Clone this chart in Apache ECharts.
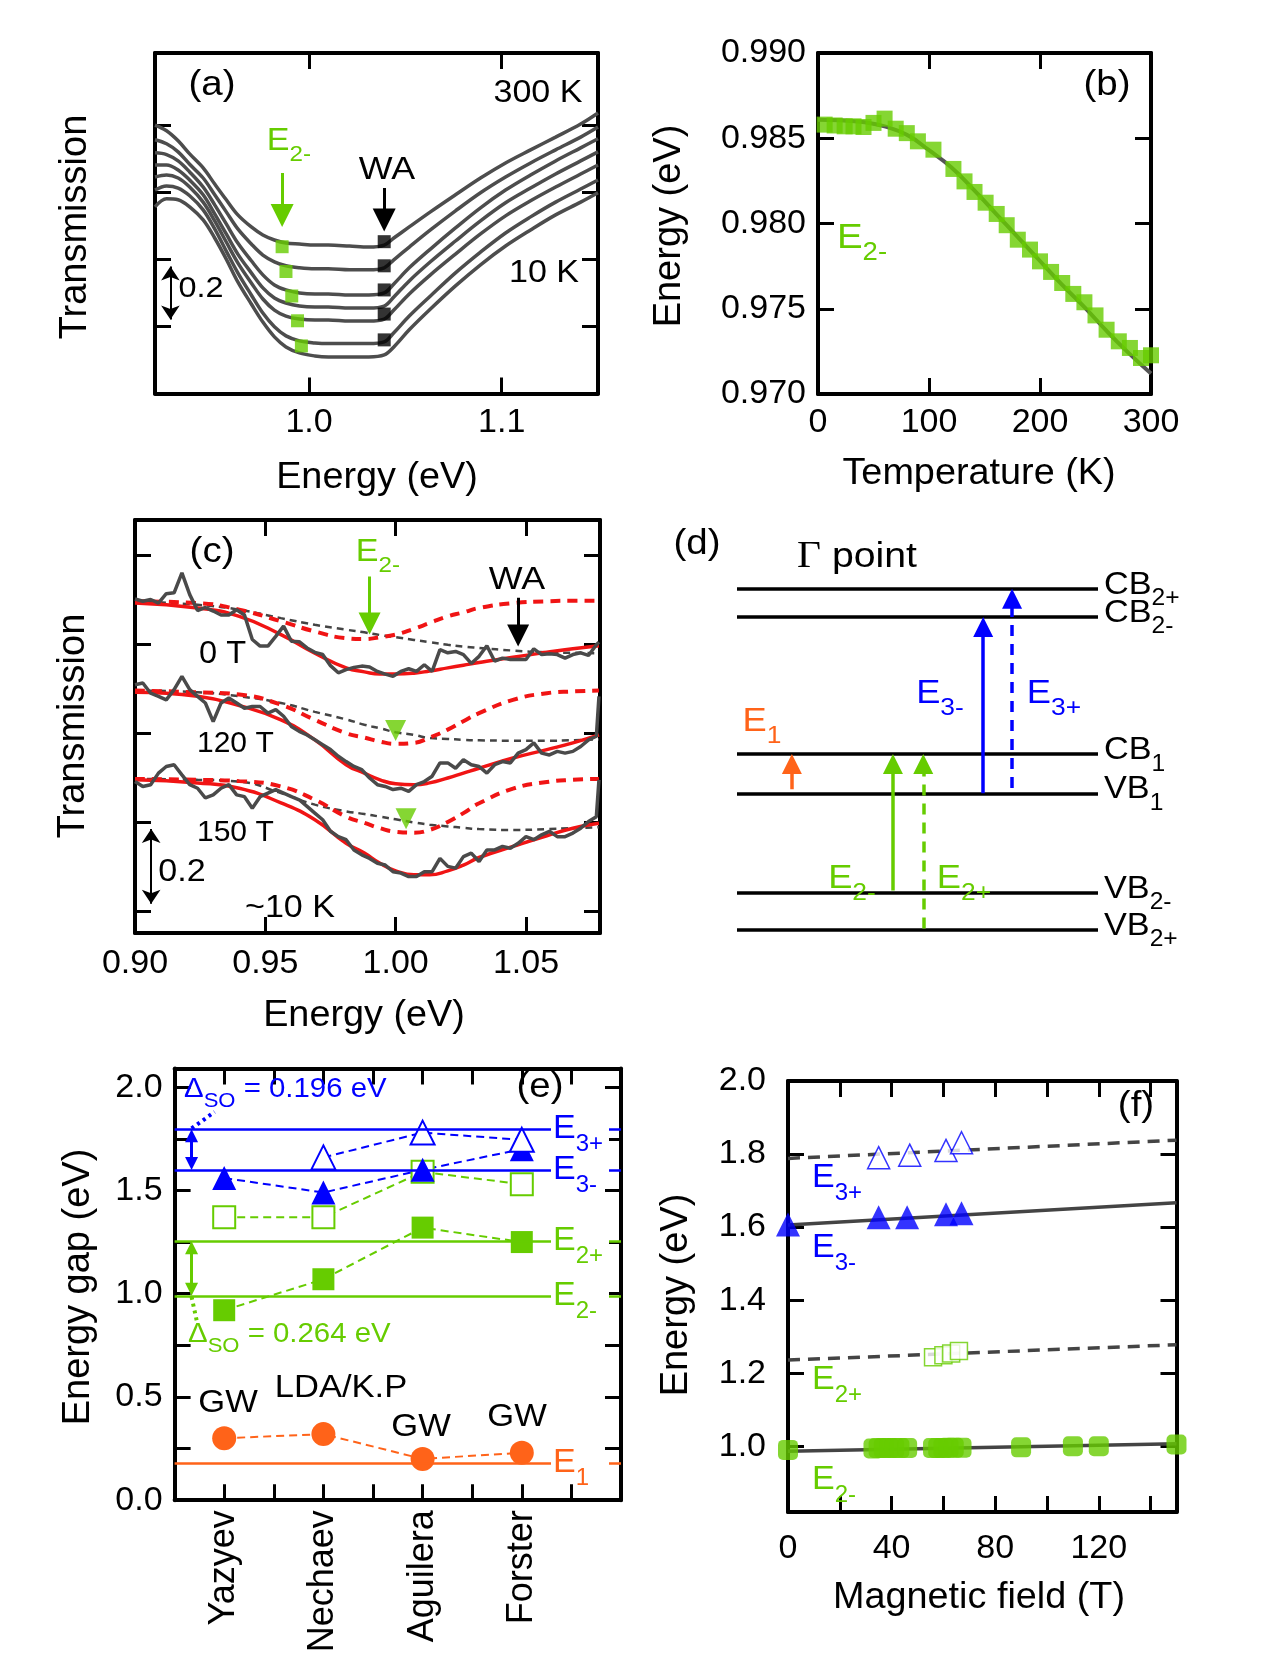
<!DOCTYPE html>
<html>
<head>
<meta charset="utf-8">
<title>Transitions in Bi2Se3</title>
<script src="https://cdn.jsdelivr.net/npm/echarts@6.0.0/dist/echarts.min.js"></script>
<style>
html, body { margin: 0; padding: 0; background: #fff; }
#main { width: 1278px; height: 1659px; }
</style>
</head>
<body>
<div id="main"></div>
<script>
var FONT = '"Liberation Sans", Arial, Helvetica, sans-serif';
var GREEN = '#66cc00', BLUE = '#0000ff', ORANGE = '#ff6319', RED = '#f01414', GRAY = '#4d4d4d';

// ---- (a) transmission vs energy, 300 K (top) ... 10 K (bottom)
var energyA = [0.920, 0.926, 0.932, 0.938, 0.945, 0.951, 0.957, 0.963, 0.970, 0.976, 0.982, 0.988, 0.995, 1.003,
  1.010, 1.021, 1.031, 1.039, 1.044, 1.052, 1.063, 1.076, 1.089, 1.102, 1.115, 1.128, 1.141, 1.150];
var transA1 = [0.801, 0.784, 0.754, 0.715, 0.673, 0.625, 0.578, 0.533, 0.497, 0.473, 0.458, 0.449, 0.446, 0.443, 0.443, 0.440, 0.437, 0.443, 0.464, 0.497, 0.542, 0.593, 0.643, 0.688, 0.727, 0.765, 0.804, 0.837];
var transA2 = [0.757, 0.745, 0.721, 0.684, 0.643, 0.593, 0.542, 0.491, 0.446, 0.413, 0.393, 0.381, 0.375, 0.372, 0.372, 0.369, 0.369, 0.375, 0.399, 0.437, 0.488, 0.545, 0.599, 0.646, 0.688, 0.727, 0.765, 0.795];
var transA3 = [0.718, 0.713, 0.694, 0.661, 0.616, 0.563, 0.506, 0.449, 0.396, 0.354, 0.324, 0.309, 0.300, 0.297, 0.297, 0.294, 0.294, 0.300, 0.327, 0.375, 0.431, 0.494, 0.554, 0.607, 0.652, 0.694, 0.733, 0.760];
var transA4 = [0.682, 0.682, 0.667, 0.637, 0.593, 0.536, 0.476, 0.416, 0.360, 0.315, 0.285, 0.270, 0.261, 0.258, 0.258, 0.255, 0.255, 0.261, 0.288, 0.336, 0.393, 0.455, 0.515, 0.569, 0.613, 0.655, 0.694, 0.721];
var transA5 = [0.646, 0.652, 0.643, 0.616, 0.571, 0.515, 0.452, 0.390, 0.330, 0.282, 0.249, 0.231, 0.222, 0.219, 0.219, 0.216, 0.216, 0.222, 0.249, 0.297, 0.354, 0.416, 0.476, 0.530, 0.575, 0.616, 0.655, 0.682];
var transA6 = [0.607, 0.619, 0.613, 0.590, 0.548, 0.491, 0.425, 0.360, 0.294, 0.240, 0.199, 0.172, 0.157, 0.151, 0.149, 0.149, 0.149, 0.154, 0.181, 0.231, 0.291, 0.360, 0.422, 0.479, 0.527, 0.571, 0.610, 0.637];
var transA7 = [0.557, 0.581, 0.578, 0.557, 0.518, 0.464, 0.401, 0.333, 0.267, 0.213, 0.169, 0.139, 0.121, 0.112, 0.109, 0.109, 0.109, 0.115, 0.139, 0.190, 0.252, 0.321, 0.384, 0.440, 0.488, 0.533, 0.571, 0.599];
var e2mEnergyA = [0.986, 0.988, 0.991, 0.994, 0.996];
var e2mTransA = [0.438, 0.364, 0.291, 0.217, 0.142];
var waEnergyA = [1.039, 1.039, 1.039, 1.039, 1.039];
var waTransA = [0.453, 0.381, 0.309, 0.237, 0.160];

// ---- (b) E2- vs temperature
var tempB = [6, 15, 24, 32, 41, 50, 60, 70, 80, 90, 104, 122, 132, 141, 151, 161, 170, 180, 191, 200, 210, 220, 230, 240, 250, 260, 271, 281, 291, 300];
var e2mB = [0.9858, 0.98575, 0.9857, 0.9857, 0.98566, 0.9859, 0.98615, 0.98556, 0.9853, 0.98482, 0.98433, 0.9832, 0.98247, 0.98185, 0.98122,
  0.98056, 0.9799, 0.97905, 0.97847, 0.97778, 0.97716, 0.97651, 0.97587, 0.97538, 0.97461, 0.97377, 0.97309, 0.9727, 0.97211, 0.97227];
var fitTempB = [0, 20, 40, 60, 80, 100, 120, 140, 160, 180, 200, 220, 240, 260, 280, 300];
var fitE2mB = [0.98609, 0.98605, 0.98595, 0.98570, 0.98520, 0.98430, 0.98330, 0.98200, 0.98060, 0.97920, 0.97780, 0.97640, 0.97510, 0.97370, 0.97240, 0.97120];

// ---- (c) magneto-transmission, 0 T / 120 T / 150 T
var energyC = [0.900, 0.903, 0.906, 0.909, 0.912, 0.915, 0.918, 0.921, 0.924, 0.927,
  0.930, 0.933, 0.936, 0.939, 0.942, 0.945, 0.948, 0.951, 0.954, 0.957,
  0.960, 0.963, 0.966, 0.969, 0.972, 0.975, 0.978, 0.981, 0.984, 0.987,
  0.990, 0.993, 0.996, 0.999, 1.002, 1.005, 1.008, 1.011, 1.014, 1.017,
  1.020, 1.023, 1.026, 1.029, 1.032, 1.035, 1.038, 1.041, 1.044, 1.047,
  1.050, 1.053, 1.056, 1.059, 1.062, 1.065, 1.068, 1.071, 1.074, 1.077, 1.078];
var trans0T = [0.752, 0.747, 0.751, 0.743, 0.764, 0.766, 0.811, 0.762, 0.726, 0.733,
  0.725, 0.716, 0.716, 0.728, 0.716, 0.661, 0.646, 0.646, 0.668, 0.691,
  0.657, 0.656, 0.642, 0.632, 0.627, 0.602, 0.586, 0.593, 0.598, 0.601,
  0.599, 0.589, 0.583, 0.578, 0.589, 0.595, 0.589, 0.604, 0.589, 0.638,
  0.631, 0.634, 0.627, 0.607, 0.623, 0.647, 0.612, 0.619, 0.616, 0.616,
  0.616, 0.640, 0.627, 0.629, 0.627, 0.619, 0.627, 0.631, 0.625, 0.649, 0.655];
var trans120T = [0.559, 0.563, 0.540, 0.533, 0.525, 0.548, 0.578, 0.548, 0.533, 0.518,
  0.476, 0.518, 0.529, 0.518, 0.506, 0.510, 0.510, 0.495, 0.503, 0.488,
  0.465, 0.454, 0.446, 0.435, 0.424, 0.413, 0.398, 0.386, 0.375, 0.368,
  0.349, 0.334, 0.330, 0.323, 0.326, 0.319, 0.334, 0.341, 0.353, 0.383,
  0.383, 0.371, 0.390, 0.379, 0.375, 0.360, 0.379, 0.386, 0.383, 0.405,
  0.413, 0.428, 0.405, 0.401, 0.409, 0.405, 0.409, 0.420, 0.435, 0.443, 0.533];
var trans150T = [0.341, 0.330, 0.334, 0.360, 0.375, 0.379, 0.356, 0.334, 0.326, 0.304,
  0.311, 0.326, 0.334, 0.311, 0.307, 0.281, 0.307, 0.315, 0.323, 0.315,
  0.307, 0.300, 0.285, 0.270, 0.255, 0.229, 0.217, 0.210, 0.187, 0.176,
  0.168, 0.157, 0.153, 0.138, 0.135, 0.127, 0.127, 0.138, 0.138, 0.168,
  0.150, 0.146, 0.172, 0.180, 0.161, 0.187, 0.187, 0.195, 0.191, 0.202,
  0.217, 0.210, 0.221, 0.229, 0.217, 0.217, 0.225, 0.236, 0.251, 0.262, 0.345];
var fitEnergyC = [0.900, 0.924, 0.940, 0.956, 0.969, 0.981, 0.988, 0.994, 1.000, 1.007, 1.013, 1.020, 1.026, 1.032, 1.045, 1.058, 1.068, 1.078];
var fit0T = [0.743, 0.732, 0.713, 0.672, 0.630, 0.597, 0.588, 0.583, 0.583, 0.585, 0.590, 0.597, 0.603, 0.609, 0.621, 0.632, 0.640, 0.647];
var dip0T = [0.747, 0.743, 0.728, 0.702, 0.679, 0.664, 0.662, 0.666, 0.672, 0.685, 0.698, 0.713, 0.722, 0.732, 0.743, 0.747, 0.748, 0.748];
var base0T = [0.747, 0.739, 0.728, 0.709, 0.694, 0.683, 0.677, 0.671, 0.666, 0.660, 0.655, 0.649, 0.645, 0.642, 0.636, 0.632, 0.631, 0.630];
var fit120T = [0.542, 0.533, 0.512, 0.480, 0.435, 0.379, 0.360, 0.345, 0.336, 0.334, 0.338, 0.349, 0.360, 0.371, 0.394, 0.413, 0.428, 0.446];
var dip120T = [0.546, 0.542, 0.537, 0.514, 0.480, 0.450, 0.440, 0.431, 0.426, 0.428, 0.440, 0.458, 0.477, 0.495, 0.525, 0.540, 0.544, 0.546];
var base120T = [0.546, 0.542, 0.533, 0.518, 0.498, 0.481, 0.469, 0.461, 0.452, 0.446, 0.439, 0.437, 0.435, 0.434, 0.433, 0.433, 0.434, 0.436];
var fit150T = [0.345, 0.338, 0.326, 0.293, 0.255, 0.202, 0.180, 0.157, 0.140, 0.131, 0.131, 0.140, 0.153, 0.170, 0.195, 0.219, 0.236, 0.247];
var dip150T = [0.347, 0.345, 0.342, 0.330, 0.300, 0.262, 0.248, 0.236, 0.228, 0.226, 0.232, 0.250, 0.270, 0.292, 0.325, 0.340, 0.345, 0.347];
var base150T = [0.347, 0.345, 0.341, 0.315, 0.289, 0.274, 0.268, 0.262, 0.256, 0.249, 0.244, 0.240, 0.237, 0.234, 0.232, 0.234, 0.236, 0.238];
var e2mEnergyC = [1.000, 1.004];
var e2mTransC = [0.456, 0.257];

// ---- (d) Gamma-point level scheme
var levelNames = [['CB', '2+'], ['CB', '2-'], ['CB', '1'], ['VB', '1'], ['VB', '2-'], ['VB', '2+']];
var levelEnergies = [9.24, 8.50, 4.89, 3.86, 1.24, 0.26];
var transX = [1.52, 4.32, 5.16, 6.82, 7.62];
var transFrom = [3.97, 1.30, 0.30, 3.86, 4.00];
var transTo = [4.63, 4.63, 4.63, 8.24, 8.98];
var transColor = [ORANGE, GREEN, GREEN, BLUE, BLUE];
var transDashed = [false, false, true, false, true];

// ---- (e) calculated gaps vs experiment
var methods = ['Yazyev', 'Nechaev', 'Aguilera', 'Forster'];
var methodPos = [1, 2, 3, 4];
var e1Calc = [0.30, 0.32, 0.20, 0.23];
var e2mCalc = [0.92, 1.07, 1.32, 1.25];
var e2pCalc = [1.37, 1.37, 1.59, 1.53];
var e3mCalc = [1.56, 1.49, 1.60, 1.70];
var e3pCalc = [null, 1.66, 1.78, 1.745];
var expLevels = [0.18, 0.99, 1.254, 1.60, 1.796];
var expColors = [ORANGE, GREEN, GREEN, BLUE, BLUE];

// ---- (f) energies vs magnetic field
var fieldE2m = [0, 33, 35, 37, 39, 41, 43, 46, 56, 58, 60, 62, 64, 67, 90, 110, 120, 150];
var e2mF = [0.990, 0.994, 0.995, 0.995, 0.995, 0.995, 0.995, 0.995, 0.995, 0.995, 0.995, 0.996, 0.996, 0.996, 0.997, 1.000, 1.000, 1.005];
var fieldE2p = [56, 60, 63, 66];
var e2pF = [1.244, 1.249, 1.254, 1.261];
var fieldE3m = [0, 35, 46, 61, 67];
var e3mF = [1.607, 1.627, 1.627, 1.635, 1.638];
var fieldE3p = [35, 47, 61, 67];
var e3pF = [1.790, 1.797, 1.810, 1.831];
var fitField = [0, 150];
var fitE2mF = [0.986, 1.007];
var fitE2pF = [1.236, 1.278];
var fitE3mF = [1.606, 1.667];
var fitE3pF = [1.788, 1.838];

function pairs(xs, ys) {
  var out = [];
  for (var i = 0; i < xs.length; i++) {
    if (ys[i] != null) out.push([xs[i], ys[i]]);
  }
  return out;
}

function valAxis(grid, pos, min, max, ticks, labels, fmt, margin, extra) {
  var ax = {
    type: 'value', gridIndex: grid, position: pos, min: min, max: max,
    axisLine: {show: true, onZero: false, lineStyle: {color: '#000', width: 4}},
    axisTick: {show: true, inside: true, length: 16, customValues: ticks, lineStyle: {color: '#000', width: 3}},
    splitLine: {show: false},
    axisLabel: {show: !!labels, customValues: labels || [], formatter: fmt, margin: margin || 12,
      color: '#000', fontSize: 34, fontFamily: FONT}
  };
  if (extra) for (var k in extra) ax.axisLabel[k] = extra[k];
  return ax;
}
function fx(n) { return function (v) { return Number(v).toFixed(n); }; }

function curve(ai, xs, ys, color, width, type, smooth) {
  return {type: 'line', xAxisIndex: ai, yAxisIndex: ai, data: pairs(xs, ys), showSymbol: false, symbol: 'none',
    smooth: smooth || false, lineStyle: {color: color, width: width, type: type || 'solid'}, silent: true, z: 2};
}
function dots(ai, xs, ys, symbol, size, color, extra) {
  var s = {type: 'scatter', xAxisIndex: ai, yAxisIndex: ai, data: pairs(xs, ys), symbol: symbol, symbolSize: size,
    itemStyle: {color: color}, clip: false, silent: true, z: 4};
  if (extra) for (var k in extra) s[k] = extra[k];
  return s;
}
function arrow(ai, pts, color, width, head, type, sym) {
  return {type: 'lines', coordinateSystem: 'cartesian2d', xAxisIndex: ai, yAxisIndex: ai,
    symbol: sym || ['none', 'triangle'], symbolSize: head || 1,
    lineStyle: {color: color, width: width, type: type || 'solid', opacity: 1, curveness: 0},
    data: [{coords: pts}], silent: true, z: 5};
}
function linked(ai, ys, symbol, size, color, open) {
  return {type: 'line', xAxisIndex: ai, yAxisIndex: ai, data: pairs(methodPos, ys), symbol: symbol, symbolSize: size,
    showSymbol: true, showAllSymbol: true, silent: true, z: 4,
    lineStyle: {color: color, width: 2, type: [8, 5]},
    itemStyle: open ? {color: '#fff', borderColor: color, borderWidth: 2} : {color: color}};
}

// plain text; sx stretches it sideways like the lettering of the original figure
function T(x, y, s, size, opt) {
  opt = opt || {};
  return {type: 'text', x: x, y: y, rotation: opt.rot || 0, scaleX: opt.sx || 1, z: 100, silent: true,
    style: {text: s, fill: opt.color || '#000', font: size + 'px ' + FONT,
      align: opt.align || 'center', verticalAlign: 'middle',
      textAlign: opt.align || 'center', textVerticalAlign: 'middle'}};
}
// symbol with subscript
function S(x, y, main, sub, color, size, align, sx) {
  return {type: 'text', x: x, y: y, scaleX: sx || 1, z: 100, silent: true,
    style: {text: '{m|' + main + '}{s|' + sub + '}', fill: color, font: size + 'px ' + FONT,
      align: align || 'center', verticalAlign: 'middle',
      textAlign: align || 'center', textVerticalAlign: 'middle',
      rich: {
        m: {fontSize: size, fontFamily: FONT, fill: color, lineHeight: Math.round(size * 1.6), verticalAlign: 'middle'},
        s: {fontSize: Math.round(size * 0.72), fontFamily: FONT, fill: color, lineHeight: Math.round(size * 0.72), verticalAlign: 'bottom'}
      }}};
}
function delta(x, y, rest, color, size) {
  return {type: 'text', x: x, y: y, scaleX: 1.05, z: 100, silent: true,
    style: {text: '{m|\u0394}{s|SO}{m|' + rest + '}', fill: color, font: size + 'px ' + FONT,
      align: 'left', verticalAlign: 'middle', textAlign: 'left', textVerticalAlign: 'middle',
      rich: {
        m: {fontSize: size, fontFamily: FONT, fill: color, lineHeight: Math.round(size * 1.6), verticalAlign: 'middle'},
        s: {fontSize: Math.round(size * 0.75), fontFamily: FONT, fill: color, lineHeight: Math.round(size * 0.75), verticalAlign: 'bottom'}
      }}};
}
function whiteBox(x, y, w, h) {
  return {type: 'rect', shape: {x: x, y: y - h / 2, width: w, height: h}, style: {fill: '#fff'}, z: 99, silent: true};
}

var ROT = Math.PI / 2;

var xAxes = [
  valAxis(0, 'bottom', 0.92, 1.15, [1.0, 1.1], [1.0, 1.1], fx(1), 12),
  valAxis(0, 'top', 0.92, 1.15, [1.0, 1.1]),
  valAxis(1, 'bottom', 0, 300, [100, 200], [0, 100, 200, 300], fx(0), 12),
  valAxis(1, 'top', 0, 300, [100, 200]),
  valAxis(2, 'bottom', 0.90, 1.0784, [0.95, 1.0, 1.05], [0.90, 0.95, 1.0, 1.05], fx(2), 14),
  valAxis(2, 'top', 0.90, 1.0784, [0.95, 1.0, 1.05]),
  {type: 'value', gridIndex: 3, min: 0, max: 10, show: false},
  valAxis(4, 'bottom', 0.5, 5.0, [1, 1.5, 2, 2.5, 3, 3.5, 4, 4.5], [1, 2, 3, 4],
    function (v) { return methods[Math.round(v) - 1]; }, 10, {rotate: 90, fontSize: 36}),
  valAxis(4, 'top', 0.5, 5.0, [1, 1.5, 2, 2.5, 3, 3.5, 4, 4.5]),
  valAxis(5, 'bottom', 0, 150, [20, 40, 60, 80, 100, 120, 140], [0, 40, 80, 120], fx(0), 20),
  valAxis(5, 'top', 0, 150, [20, 40, 60, 80, 100, 120, 140])
];
var yAxes = [
  valAxis(0, 'left', 0, 1.016, [0.2, 0.4, 0.6, 0.8]),
  valAxis(0, 'right', 0, 1.016, [0.2, 0.4, 0.6, 0.8]),
  valAxis(1, 'left', 0.970, 0.990, [0.975, 0.980, 0.985], [0.970, 0.975, 0.980, 0.985, 0.990], fx(3), 12),
  valAxis(1, 'right', 0.970, 0.990, [0.975, 0.980, 0.985]),
  valAxis(2, 'left', 0, 0.93, [0.05, 0.25, 0.45, 0.65, 0.85]),
  valAxis(2, 'right', 0, 0.93, [0.05, 0.25, 0.45, 0.65, 0.85]),
  {type: 'value', gridIndex: 3, min: 0, max: 10, show: false},
  valAxis(4, 'left', 0, 2.09, [0.25, 0.5, 0.75, 1.0, 1.25, 1.5, 1.75, 2.0], [0, 0.5, 1.0, 1.5, 2.0], fx(1), 12),
  valAxis(4, 'right', 0, 2.09, [0.25, 0.5, 0.75, 1.0, 1.25, 1.5, 1.75, 2.0]),
  valAxis(5, 'left', 0.82, 2.0, [1.0, 1.2, 1.4, 1.6, 1.8], [1.0, 1.2, 1.4, 1.6, 1.8, 2.0], fx(1), 22),
  valAxis(5, 'right', 0.82, 2.0, [1.0, 1.2, 1.4, 1.6, 1.8])
];
// axis index per panel: a=0, b=2, c=4, d=6, e=7, f=9

var series = [];
// (a)
[transA1, transA2, transA3, transA4, transA5, transA6, transA7].forEach(function (ys) {
  series.push(curve(0, energyA, ys, '#4d4d4d', 3.5, 'solid', 0.35));
});
series.push(dots(0, e2mEnergyA, e2mTransA, 'rect', 13, GREEN));
series.push(dots(0, waEnergyA, waTransA, 'rect', 13, '#000'));
series.push(arrow(0, [[0.986, 0.658], [0.986, 0.531]], GREEN, 3, 23));
series.push(arrow(0, [[1.039, 0.613], [1.039, 0.518]], '#000', 3, 23));
series.push(arrow(0, [[0.928, 0.379], [0.928, 0.221]], '#000', 2, 14, 'solid', ['arrow', 'arrow']));

// (b)
series.push(curve(2, fitTempB, fitE2mB, '#555', 4, 'solid', true));
series.push(dots(2, tempB, e2mB, 'rect', 16, GREEN));

// (c)
[[base0T, dip0T, fit0T, trans0T], [base120T, dip120T, fit120T, trans120T], [base150T, dip150T, fit150T, trans150T]].forEach(function (g) {
  series.push(curve(4, fitEnergyC, g[0], '#444', 2.5, [7, 5], true));
  series.push(curve(4, fitEnergyC, g[1], RED, 4, [10, 7], true));
  series.push(curve(4, fitEnergyC, g[2], RED, 3.5, 'solid', true));
  series.push(curve(4, energyC, g[3], '#4a4a4a', 3.5, 'solid', false));
});
series.push(dots(4, e2mEnergyC, e2mTransC, 'triangle', 21, GREEN, {symbolRotate: 180}));
series.push(arrow(4, [[0.990, 0.803], [0.990, 0.697]], GREEN, 3, 22));
series.push(arrow(4, [[1.047, 0.755], [1.047, 0.670]], '#000', 3, 22));
series.push(arrow(4, [[0.9062, 0.234], [0.9062, 0.066]], '#000', 2, 14, 'solid', ['arrow', 'arrow']));

// (d)
levelEnergies.forEach(function (v) {
  series.push(arrow(6, [[0, v], [10, v]], '#000', 3.5, 1, 'solid', ['none', 'none']));
});
transX.forEach(function (x, i) {
  series.push(arrow(6, [[x, transFrom[i]], [x, transTo[i]]], transColor[i], 3.5, 20, transDashed[i] ? [11, 8] : 'solid'));
});

// (e)
expLevels.forEach(function (v, i) {
  series.push(arrow(7, [[0.5, v], [5.0, v]], expColors[i], 2.5, 1, 'solid', ['none', 'none']));
});
series.push(linked(7, e1Calc, 'circle', 24, ORANGE, false));
series.push(linked(7, e2mCalc, 'rect', 22, GREEN, false));
series.push(linked(7, e2pCalc, 'rect', 22, GREEN, true));
series.push(linked(7, e3mCalc, 'triangle', 24, BLUE, false));
series.push(linked(7, e3pCalc, 'triangle', 24, BLUE, true));
series.push(arrow(7, [[0.671, 1.631], [0.671, 1.765]], BLUE, 3, 13, 'solid', ['triangle', 'triangle']));
series.push(arrow(7, [[0.671, 1.021], [0.671, 1.223]], GREEN, 3, 13, 'solid', ['triangle', 'triangle']));
series.push(arrow(7, [[0.671, 1.80], [0.903, 1.88]], BLUE, 4, 1, [3, 4], ['none', 'none']));
series.push(arrow(7, [[0.671, 0.985], [0.729, 0.856]], GREEN, 4, 1, [3, 4], ['none', 'none']));

// (f)
series.push(curve(9, fitField, fitE3pF, '#444', 3.5, [12, 8]));
series.push(curve(9, fitField, fitE3mF, '#444', 3.5, 'solid'));
series.push(curve(9, fitField, fitE2pF, '#444', 3.5, [12, 8]));
series.push(curve(9, fitField, fitE2mF, '#444', 3.5, 'solid'));
series.push(dots(9, fieldE2m, e2mF, 'roundRect', 20, GREEN));
series.push(dots(9, fieldE2p, e2pF, 'rect', 17, '#fff', {itemStyle: {color: '#fff', borderColor: GREEN, borderWidth: 1.5}}));
series.push(dots(9, fieldE3m, e3mF, 'triangle', 24, BLUE));
series.push(dots(9, fieldE3p, e3pF, 'triangle', 22, '#fff', {itemStyle: {color: '#fff', borderColor: BLUE, borderWidth: 1.5}}));

// ---- text
var texts = [
  // (a)
  T(212, 85, '(a)', 35, {sx: 1.1}), T(538, 93, '300 K', 31, {sx: 1.1}), T(544, 273, '10 K', 31, {sx: 1.1}),
  S(289, 141, 'E', '2-', GREEN, 31, 'center', 1.1), T(387, 170, 'WA', 32, {sx: 1.12}), T(201, 289, '0.2', 30, {sx: 1.08}),
  T(377, 478, 'Energy (eV)', 36, {sx: 1.05}), T(76, 227, 'Transmission', 38, {rot: ROT}),
  // (b)
  T(1107, 85, '(b)', 35, {sx: 1.1}), S(862, 238, 'E', '2-', GREEN, 35, 'center', 1.1),
  T(979, 474, 'Temperature (K)', 36, {sx: 1.05}), T(670, 226, 'Energy (eV)', 38, {rot: ROT}),
  // (c)
  T(212, 552, '(c)', 35, {sx: 1.1}), S(378, 552, 'E', '2-', GREEN, 31, 'center', 1.1), T(517, 580, 'WA', 32, {sx: 1.12}),
  T(199, 654, '0 T', 31, {align: 'left', sx: 1.05}), T(197, 744, '120 T', 30, {align: 'left'}), T(197, 833, '150 T', 30, {align: 'left'}),
  T(182, 872, '0.2', 31, {sx: 1.1}), T(290, 908, '~10 K', 31, {sx: 1.1}),
  T(364, 1016, 'Energy (eV)', 36, {sx: 1.05}), T(74, 726, 'Transmission', 38, {rot: ROT}),
  // (d)
  T(697, 544, '(d)', 35, {sx: 1.1}),
  {type: 'text', x: 857, y: 557, scaleX: 1.12, z: 100, silent: true,
    style: {text: '{g|\u0393}{m| point}', fill: '#000', font: '35px ' + FONT, align: 'center', verticalAlign: 'middle',
      textAlign: 'center', textVerticalAlign: 'middle',
      rich: {g: {fontSize: 37, fontFamily: '"Liberation Serif", "DejaVu Serif", serif', fill: '#000'},
        m: {fontSize: 35, fontFamily: FONT, fill: '#000'}}}},
  S(762, 722, 'E', '1', ORANGE, 33, 'center', 1.1), S(940, 694, 'E', '3-', BLUE, 33, 'center', 1.1),
  S(1054, 694, 'E', '3+', BLUE, 33, 'center', 1.1),
  S(852, 879, 'E', '2-', GREEN, 33, 'center', 1.1), S(964, 879, 'E', '2+', GREEN, 33, 'center', 1.1),
  // (e)
  T(540, 1087, '(e)', 35, {sx: 1.1}),
  delta(184, 1089, ' = 0.196 eV', BLUE, 28), delta(188, 1334, ' = 0.264 eV', GREEN, 28),
  T(228, 1403, 'GW', 32, {sx: 1.08}), T(341, 1388, 'LDA/K.P', 32, {sx: 1.08}),
  T(421, 1427, 'GW', 32, {sx: 1.08}), T(517, 1417, 'GW', 32, {sx: 1.08}),
  whiteBox(551, 1129, 58, 26), whiteBox(551, 1170, 58, 26), whiteBox(551, 1241, 58, 26),
  whiteBox(551, 1296, 58, 26), whiteBox(551, 1463, 58, 26),
  S(553, 1129, 'E', '3+', BLUE, 34, 'left'), S(553, 1170, 'E', '3-', BLUE, 34, 'left'),
  S(553, 1241, 'E', '2+', GREEN, 34, 'left'), S(553, 1296, 'E', '2-', GREEN, 34, 'left'),
  S(553, 1463, 'E', '1', ORANGE, 34, 'left'),
  T(79, 1287, 'Energy gap (eV)', 38, {rot: ROT}),
  // (f)
  T(1136, 1106, '(f)', 35, {sx: 1.1}),
  S(812, 1178, 'E', '3+', BLUE, 34, 'left'), S(812, 1248, 'E', '3-', BLUE, 34, 'left'),
  S(812, 1380, 'E', '2+', GREEN, 34, 'left'), S(812, 1480, 'E', '2-', GREEN, 34, 'left'),
  T(979, 1598, 'Magnetic field (T)', 36, {sx: 1.05}), T(677, 1295, 'Energy (eV)', 38, {rot: ROT})
];
// level labels of (d), placed beside the level lines (grid top 560, 38 px per unit)
levelNames.forEach(function (n, i) {
  texts.push(S(1104, 560 + (10 - levelEnergies[i]) * 38 - 4, n[0], n[1], '#000', 32, 'left', 1.07));
});

var chart = echarts.init(document.getElementById('main'), null, {renderer: 'canvas', width: 1278, height: 1659});
chart.setOption({
  animation: false,
  backgroundColor: '#fff',
  textStyle: {fontFamily: FONT},
  grid: [
    {left: 155, top: 53, width: 443, height: 340.5, outerBoundsMode: 'none'},
    {left: 818, top: 53, width: 333, height: 341, outerBoundsMode: 'none'},
    {left: 135, top: 520, width: 465, height: 413, outerBoundsMode: 'none'},
    {left: 737, top: 560, width: 361, height: 380, outerBoundsMode: 'none'},
    {left: 174.6, top: 1068.6, width: 446.4, height: 431.6, outerBoundsMode: 'none'},
    {left: 788, top: 1081, width: 388.5, height: 431, outerBoundsMode: 'none'}
  ],
  xAxis: xAxes,
  yAxis: yAxes,
  series: series,
  graphic: {elements: texts}
});
</script>
</body>
</html>
